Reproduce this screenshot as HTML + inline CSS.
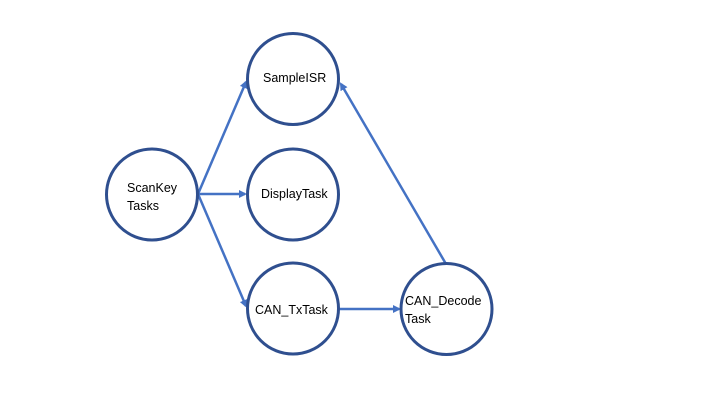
<!DOCTYPE html>
<html><head><style>body{margin:0;background:#fff}svg{display:block}text{font-family:"Liberation Sans",sans-serif;font-size:12.5px;fill:#000}</style></head><body>
<svg width="720" height="405" viewBox="0 0 720 405">
<defs><marker id="a" markerWidth="8" markerHeight="8" refX="6" refY="4" orient="auto" markerUnits="userSpaceOnUse"><path d="M0,0 L8,4 L0,8 z" fill="#4472C4"/></marker></defs>
<g stroke="#4472C4" stroke-width="2.5" fill="none" marker-end="url(#a)">
<line x1="198" y1="194" x2="246" y2="82"/>
<line x1="198" y1="194" x2="245" y2="194"/>
<line x1="198" y1="194" x2="246" y2="306"/>
<line x1="339" y1="309" x2="399" y2="309"/>
<line x1="446" y1="264" x2="341" y2="84"/>
</g>
<g stroke="#2F4F8F" stroke-width="3" fill="none">
<circle cx="152" cy="194.5" r="45.5"/>
<circle cx="293" cy="79" r="45.5"/>
<circle cx="293" cy="194.5" r="45.5"/>
<circle cx="293" cy="308.5" r="45.5"/>
<circle cx="446.5" cy="309" r="45.5"/>
</g>
<text x="263" y="82">SampleISR</text>
<text x="261" y="198">DisplayTask</text>
<text x="255" y="314">CAN_TxTask</text>
<text x="127" y="192">ScanKey</text>
<text x="127" y="210">Tasks</text>
<text x="405" y="305">CAN_Decode</text>
<text x="405" y="323">Task</text>
</svg>
</body></html>
